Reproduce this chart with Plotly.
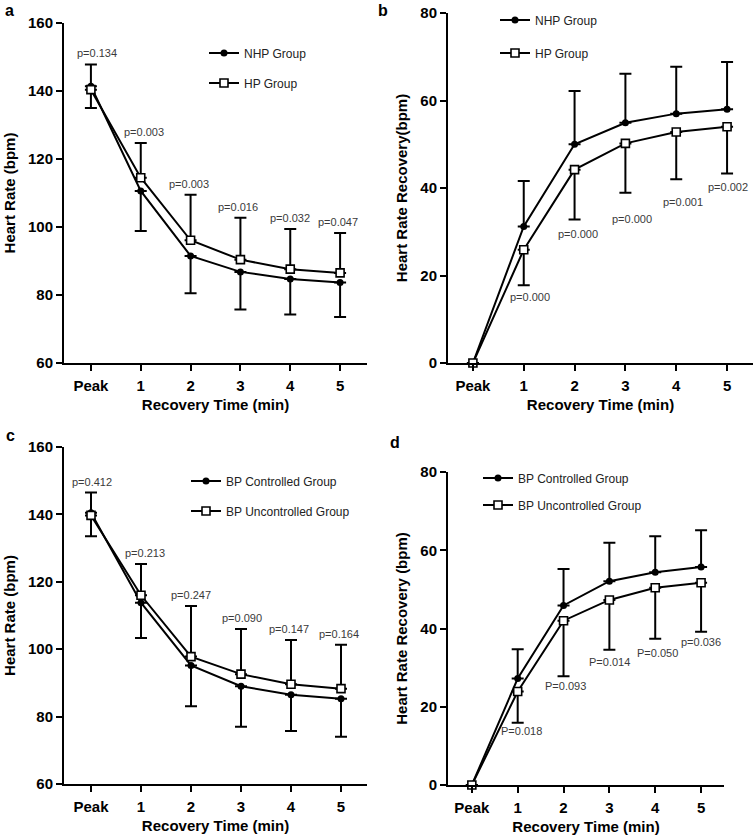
import plotly.graph_objects as go

# recovery time points
time_labels = ["Peak", "1", "2", "3", "4", "5"]

# a: heart rate, NHP vs HP
hr_nhp = [141.4, 110.6, 91.5, 86.8, 84.7, 83.7]
hr_nhp_sd = [6.4, 11.8, 11.0, 11.1, 10.4, 10.2]
hr_hp = [140.4, 114.5, 96.1, 90.4, 87.6, 86.5]
hr_hp_sd = [7.4, 10.2, 13.4, 12.3, 11.8, 11.7]
p_hr_hp = ["p=0.134", "p=0.003", "p=0.003", "p=0.016", "p=0.032", "p=0.047"]

# b: heart rate recovery, NHP vs HP
hrr_nhp = [0, 31.2, 50.0, 54.9, 57.0, 58.0]
hrr_nhp_sd = [0, 10.4, 12.2, 11.2, 10.7, 10.8]
hrr_hp = [0, 25.9, 44.2, 50.2, 52.8, 54.0]
hrr_hp_sd = [0, 8.1, 11.4, 11.3, 10.8, 10.7]
p_hrr_hp = ["p=0.000", "p=0.000", "p=0.000", "p=0.001", "p=0.002"]

# c: heart rate, BP controlled vs uncontrolled
hr_ctrl = [140.5, 113.8, 95.2, 89.0, 86.5, 85.3]
hr_ctrl_sd = [7.0, 10.5, 12.1, 12.0, 10.8, 11.3]
hr_unctrl = [139.7, 116.0, 97.8, 92.6, 89.6, 88.3]
hr_unctrl_sd = [6.8, 9.3, 15.0, 13.4, 13.1, 13.0]
p_hr_bp = ["p=0.412", "p=0.213", "p=0.247", "p=0.090", "p=0.147", "p=0.164"]

# d: heart rate recovery, BP controlled vs uncontrolled
hrr_ctrl = [0, 27.2, 45.9, 52.1, 54.4, 55.7]
hrr_ctrl_sd = [0, 7.5, 9.3, 9.8, 9.2, 9.4]
hrr_unctrl = [0, 23.9, 42.0, 47.3, 50.4, 51.7]
hrr_unctrl_sd = [0, 8.0, 14.2, 12.7, 13.0, 12.5]
p_hrr_bp = ["P=0.018", "P=0.093", "P=0.014", "P=0.050", "p=0.036"]

FONT = "Liberation Sans, Arial, sans-serif"
NARROW = "Liberation Sans Narrow, Arial Narrow, Liberation Sans, sans-serif"

fig = go.Figure()


def err(sd, up):
    zeros = [0] * len(sd)
    return dict(type="data", symmetric=False,
                array=sd if up else zeros,
                arrayminus=zeros if up else sd,
                color="black", thickness=2, width=6)


def add_pair(n, name1, y1, sd1, up1, name2, y2, sd2, leg1, leg2):
    xa = "x" if n == 1 else f"x{n}"
    ya = "y" if n == 1 else f"y{n}"
    fig.add_trace(go.Scatter(
        x=time_labels, y=y1, name=name1, xaxis=xa, yaxis=ya,
        mode="lines+markers", cliponaxis=False, legend=leg1,
        line=dict(color="black", width=2),
        marker=dict(symbol="circle", size=7, color="black"),
        error_y=err(sd1, up1)
    ))
    fig.add_trace(go.Scatter(
        x=time_labels, y=y2, name=name2, xaxis=xa, yaxis=ya,
        mode="lines+markers", cliponaxis=False, legend=leg2,
        line=dict(color="black", width=2),
        marker=dict(symbol="square", size=8, color="white",
                    line=dict(color="black", width=1.6)),
        error_y=err(sd2, not up1)
    ))


add_pair(1, "NHP Group", hr_nhp, hr_nhp_sd, False, "HP Group", hr_hp, hr_hp_sd, "legend", "legend2")
add_pair(2, "NHP Group", hrr_nhp, hrr_nhp_sd, True, "HP Group", hrr_hp, hrr_hp_sd, "legend3", "legend4")
add_pair(3, "BP Controlled Group", hr_ctrl, hr_ctrl_sd, False, "BP Uncontrolled Group", hr_unctrl, hr_unctrl_sd,
         "legend5", "legend6")
add_pair(4, "BP Controlled Group", hrr_ctrl, hrr_ctrl_sd, True, "BP Uncontrolled Group", hrr_unctrl, hrr_unctrl_sd,
         "legend7", "legend8")

# p-value labels, placed off the error bar ends
annots = []


def p_labels(n, labels, ys, sds, up, xs, dys):
    xref = "x" if n == 1 else f"x{n}"
    yref = "y" if n == 1 else f"y{n}"
    start = len(time_labels) - len(labels)
    for i, txt in enumerate(labels):
        k = start + i
        yv = ys[k] + sds[k] if up else ys[k] - sds[k]
        annots.append(dict(
            x=time_labels[k], y=yv, xref=xref, yref=yref, text=txt, showarrow=False,
            xshift=xs[i], yshift=dys[i] if up else -dys[i], yanchor="middle",
            font=dict(family=FONT, size=11, color="#3a3a3a")
        ))


p_labels(1, p_hr_hp, hr_hp, hr_hp_sd, True, [6, 3, -2, -2, 0, -2], [11] * 6)
p_labels(2, p_hrr_hp, hrr_hp, hrr_hp_sd, False, [6, 3, 7, 7, 1], [12, 14, 26, 23, 13])
p_labels(3, p_hr_bp, hr_unctrl, hr_unctrl_sd, True, [1, 4, 0, 1, -2, -2], [11] * 6)
p_labels(4, p_hrr_bp, hrr_unctrl, hrr_unctrl_sd, False, [4, 2, 0, 2, 0], [8, 10, 12, 14, 10])

for txt, px, py in [("a", 3, 10), ("b", 376, 10), ("c", 4, 435), ("d", 388, 442)]:
    annots.append(dict(x=px / 755, y=1 - py / 836, xref="paper", yref="paper", text=txt,
                       showarrow=False, xanchor="left", yanchor="middle",
                       font=dict(family=FONT, size=16, color="black", weight="bold")))

W, H = 755, 836


def xaxis(dom, rng):
    return dict(domain=[dom[0] / W, dom[1] / W], range=rng, showline=True, linecolor="black",
                linewidth=2, ticks="outside", ticklen=6, tickwidth=2, tickcolor="black",
                showgrid=False, zeroline=False, ticklabelstandoff=2, automargin=False,
                tickfont=dict(family=FONT, size=15, color="black", weight="bold"),
                title=dict(text="Recovery Time (min)", standoff=6,
                           font=dict(family=FONT, size=15, color="black", weight="bold")))


def yaxis(dom, rng, dtick, title, anchor):
    return dict(domain=[1 - dom[1] / H, 1 - dom[0] / H], range=rng, dtick=dtick, anchor=anchor,
                showline=True, linecolor="black", linewidth=2, ticks="outside", ticklen=6,
                tickwidth=2, tickcolor="black", showgrid=False, zeroline=False, automargin=False,
                tickfont=dict(family=FONT, size=15, color="black", weight="bold"),
                title=dict(text=title, standoff=9,
                           font=dict(family=FONT, size=15, color="black", weight="bold")))


def legend(x, y):
    return dict(x=x / W, y=1 - y / H, xanchor="left", yanchor="middle", bgcolor="rgba(0,0,0,0)",
                itemwidth=30, font=dict(family=NARROW, size=12, color="#222"))


fig.update_layout(
    width=W, height=H, margin=dict(l=0, r=0, t=0, b=0, autoexpand=False),
    paper_bgcolor="white", plot_bgcolor="white", showlegend=True,
    xaxis=dict(xaxis((64, 367), [-0.54, 5.54]), anchor="y"),
    yaxis=yaxis((23, 363), [60, 160], 20, "Heart Rate (bpm)", "x"),
    xaxis2=dict(xaxis((448, 753), [-0.49, 5.51]), anchor="y2"),
    yaxis2=yaxis((13, 363), [0, 80], 20, "Heart Rate Recovery(bpm)", "x2"),
    xaxis3=dict(xaxis((64, 367), [-0.54, 5.52]), anchor="y3"),
    yaxis3=yaxis((447, 784), [60, 160], 20, "Heart Rate (bpm)", "x3"),
    xaxis4=dict(xaxis((448, 724), [-0.52, 5.5]), anchor="y4"),
    yaxis4=yaxis((472, 785), [0, 80], 20, "Heart Rate Recovery (bpm)", "x4"),
    legend=legend(204, 53), legend2=legend(204, 83),
    legend3=legend(495, 20), legend4=legend(495, 53),
    legend5=legend(186, 481), legend6=legend(186, 511),
    legend7=legend(478, 478), legend8=legend(478, 505),
    annotations=annots,
)

# the page body has a default 8px margin; drop it so the figure fills the window
fig.write_html("out.html", config={"displayModeBar": False},
               post_script="document.body.style.margin = '0';")
